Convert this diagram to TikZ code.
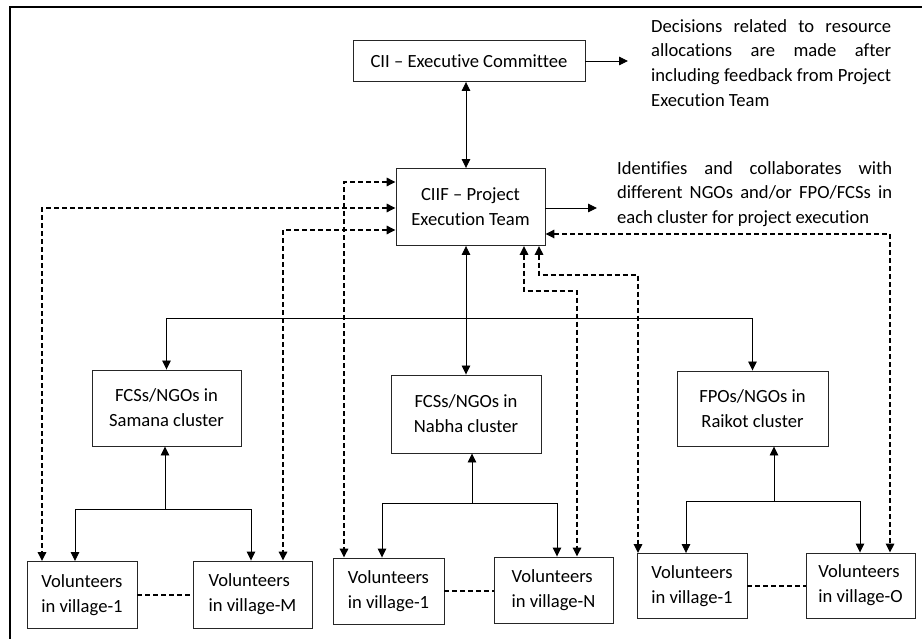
\documentclass[tikz,border=0pt]{standalone}
\usepackage{fontspec}
\setmainfont{Carlito}[Ligatures={NoCommon}]
\usetikzlibrary{arrows.meta,calc}
\begin{document}
\begin{tikzpicture}[x=1pt,y=-1pt,
  every node/.style={font=\fontsize{18.6}{24.8}\selectfont, inner sep=0pt},
  box/.style={draw=black!85, line width=0.9pt, align=center},
  vbox/.style={draw=black!85, line width=0.9pt, align=left},
  arr/.style={line width=0.9pt, -{Triangle[length=9pt,width=8.5pt]}},
  darr/.style={line width=0.9pt, {Triangle[length=9pt,width=8.5pt]}-{Triangle[length=9pt,width=8.5pt]}},
  dsh/.style={line width=1.6pt, dash pattern=on 5pt off 3pt}]
\useasboundingbox (0,0) rectangle (922,639);
\fill[white] (0,0) rectangle (922,639);
\draw[line width=1.8pt] (10,7) rectangle (960,680);

% boxes
\node[box, minimum width=232pt, minimum height=41pt] (exec) at (469,61) {CII – Executive Committee};
\node[box, minimum width=149pt, minimum height=77pt] (ciif) at (470.5,207) {CIIF – Project\\Execution Team};
\node[box, minimum width=149pt, minimum height=76pt] (samana) at (166.5,408) {FCSs/NGOs in\\Samana cluster};
\node[box, minimum width=150pt, minimum height=78pt] (nabha) at (466,414) {FCSs/NGOs in\\Nabha cluster};
\node[box, minimum width=151pt, minimum height=75pt] (raikot) at (752.5,408.5) {FPOs/NGOs in\\Raikot cluster};

\node[vbox, minimum width=110pt, minimum height=67pt] (s1) at (82,595) {Volunteers\\in village-1};
\node[vbox, minimum width=119pt, minimum height=67pt] (sM) at (252.5,594.5) {Volunteers\\in village-M};
\node[vbox, minimum width=111pt, minimum height=66pt] (n1) at (388.5,591) {Volunteers\\in village-1};
\node[vbox, minimum width=119pt, minimum height=66pt] (nN) at (553.5,590) {Volunteers\\in village-N};
\node[vbox, minimum width=110pt, minimum height=65pt] (r1) at (692,586) {Volunteers\\in village-1};
\node[vbox, minimum width=109pt, minimum height=65pt] (rO) at (860.5,585.5) {Volunteers\\in village-O};

% side texts
\node[anchor=north west, align=left] (t1) at (651,19) {\makebox[240pt][s]{Decisions related to resource}\\\makebox[240pt][s]{allocations are made after}\\\makebox[240pt][s]{including feedback from Project}\\Execution Team};
\node[anchor=north west, align=left] (t2) at (617,161) {\makebox[275pt][s]{Identifies and collaborates with}\\\makebox[275pt][s]{different NGOs and/or FPO/FCSs in}\\each cluster for project execution};

% solid connectors
\coordinate (e1) at (628,61);
\coordinate (e2) at (597,208);
\draw[arr] (exec.east) -- (e1);
\draw[arr] (ciif.east |- e2) -- (e2);
\coordinate (xA) at (466,0);
\draw[darr] (exec.south -| xA) -- (ciif.north -| xA);
\draw[darr] (ciif.south -| xA) -- (nabha.north -| xA);
\coordinate (bus) at (0,318);
\draw[darr] (samana.north) -- (samana.north |- bus) -- (raikot.north |- bus) -- (raikot.north);

% cluster buses
\coordinate (sb) at (165,509);
\draw[arr] (sb) -- (samana.south -| sb);
\draw[arr] (sb) -| ([xshift=-7pt]s1.north);
\draw[arr] (sb) -| ([xshift=-1.5pt]sM.north);
\coordinate (nb) at (472,503);
\draw[arr] (nb) -- (nabha.south -| nb);
\draw[arr] (nb) -| ([xshift=-6.5pt]n1.north);
\draw[arr] (nb) -| ([xshift=3.5pt]nN.north);
\coordinate (rb) at (774,501);
\draw[arr] (rb) -- (raikot.south -| rb);
\draw[arr] (rb) -| ([xshift=-6pt]r1.north);
\draw[arr] (rb) -| ([xshift=-0.5pt]rO.north);

% dashed connectors
\coordinate (dA) at (42,208);
\draw[darr,dsh] (ciif.west |- dA) -| (s1.north -| dA);
\coordinate (dB) at (283,230);
\draw[darr,dsh] (ciif.west |- dB) -| (sM.north -| dB);
\coordinate (dC) at (344,182);
\draw[darr,dsh] (ciif.west |- dC) -| (n1.north -| dC);
\coordinate (dD) at (577,291);
\draw[darr,dsh] ([xshift=53.5pt]ciif.south) |- (dD) -- (nN.north -| dD);
\coordinate (dE) at (638,275);
\draw[darr,dsh] ([xshift=68.5pt]ciif.south) |- (dE) -- (r1.north -| dE);
\coordinate (dF) at (890,234);
\draw[darr,dsh] (ciif.east |- dF) -| (rO.north -| dF);

\draw[dsh] (s1.east) -- (s1.east -| sM.west);
\draw[dsh] (n1.east) -- (n1.east -| nN.west);
\draw[dsh] (r1.east) -- (r1.east -| rO.west);
\end{tikzpicture}
\end{document}
